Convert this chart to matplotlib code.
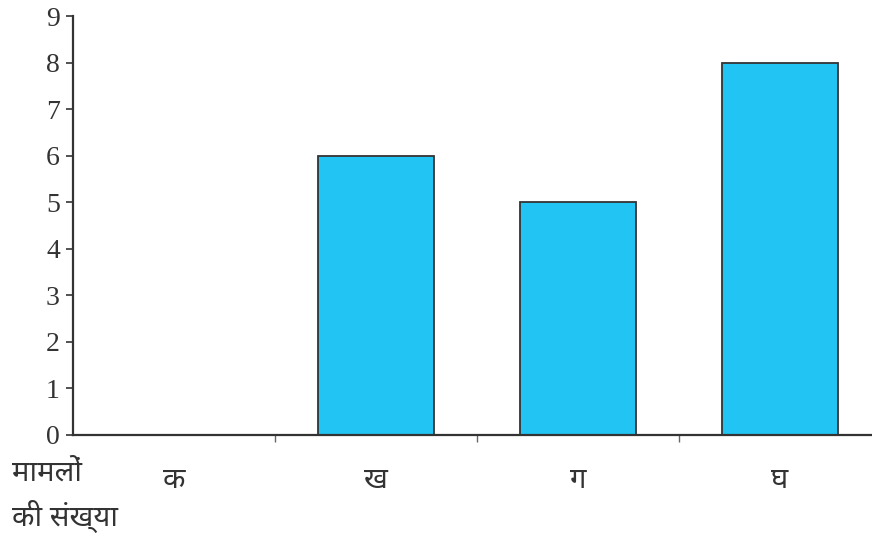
import matplotlib
matplotlib.use("Agg")
import matplotlib.pyplot as plt

# cases per category
categories = ["क", "ख", "ग", "घ"]
cases = [0, 6, 5, 8]
y_ticks = list(range(0, 10))
axis_title = "मामलों\nकी संख्या"

deva = ["Noto Sans", "DejaVu Sans"]

fig = plt.figure(figsize=(8.72, 5.38), dpi=100)
ax = fig.add_axes([73 / 872, 1 - 435 / 538, 1 - 73 / 872, (435 - 16) / 538])

x = list(range(len(categories)))
ax.bar(x, cases, width=0.575, color="#22C4F4", edgecolor="#333333",
       linewidth=1.3, zorder=2)

ax.set_xlim(-0.5, 3.455)
ax.set_ylim(0, 9)

# boundary ticks between categories, labels centred under bars
ax.set_xticks([0.5, 1.5, 2.5])
ax.set_xticklabels([])
ax.set_xticks(x, minor=True)
ax.set_xticklabels(categories, minor=True, fontsize=21, family=deva,
                   color="#333333")
ax.tick_params(axis="x", which="major", direction="out", length=5,
               width=1, color="#666666")
ax.tick_params(axis="x", which="minor", length=0, pad=22)

ax.set_yticks(y_ticks)
ax.set_yticklabels([str(v) for v in y_ticks], fontsize=20,
                   family="Liberation Serif", color="#333333")
ax.tick_params(axis="y", direction="out", length=5, width=1.2,
               color="#333333", pad=4.5)

for side in ("top", "right"):
    ax.spines[side].set_visible(False)
for side in ("left", "bottom"):
    ax.spines[side].set_linewidth(1.6)
    ax.spines[side].set_color("#333333")

fig.text(12 / 872, 1 - 459 / 538, axis_title, fontsize=21, va="top",
         ha="left", linespacing=1.45, family=deva, color="#333333")

fig.savefig("out.png")
